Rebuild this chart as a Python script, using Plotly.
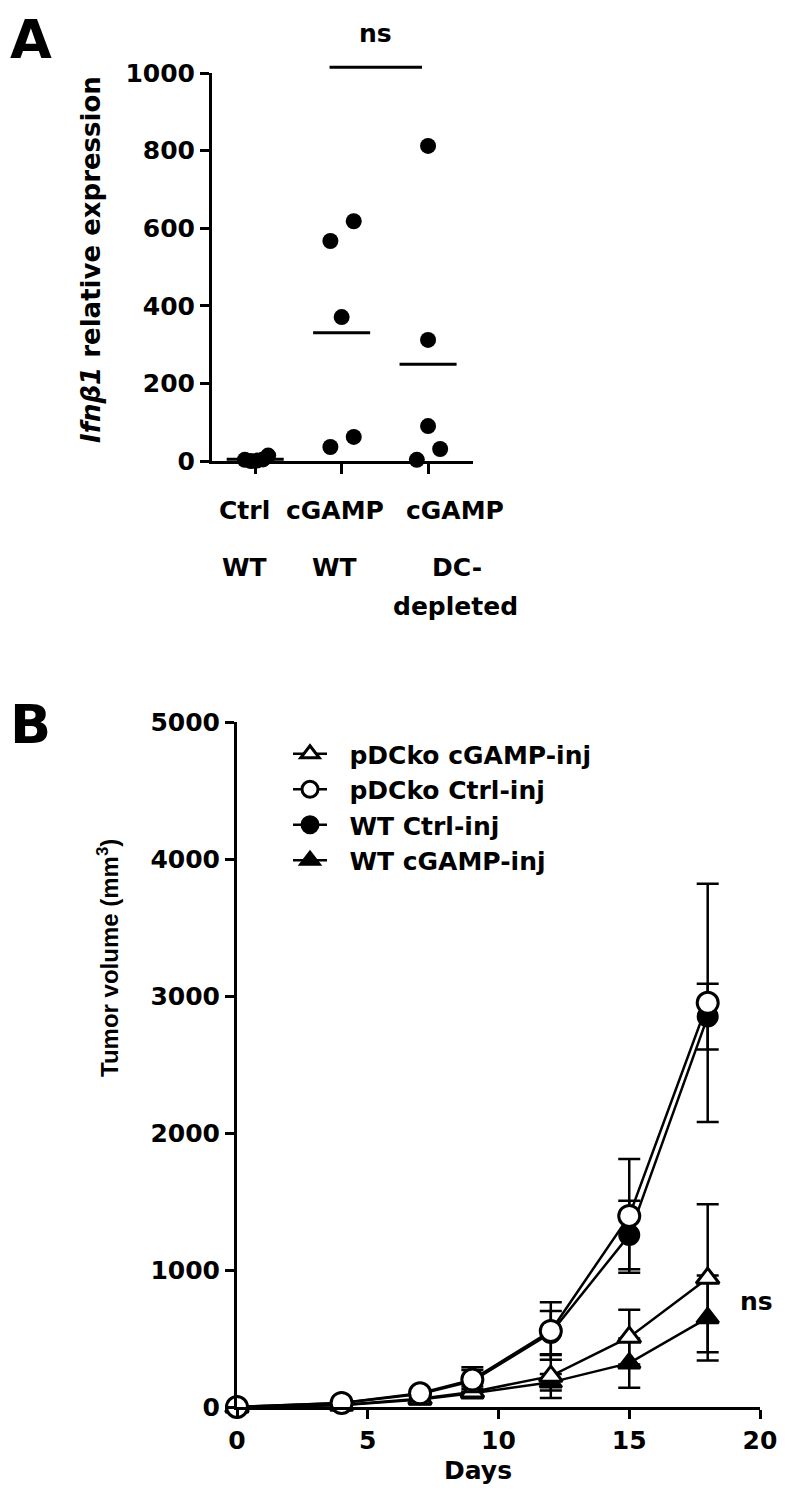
import plotly.graph_objects as go

# page body has an 8px margin: the figure fills the rest of the 785x1496 window
OFF = 8
W, H = 785 - OFF, 1496 - OFF
FONT = "DejaVu Sans"

# ---------------- Panel A data ----------------
group_pos = [0, 1, 2]
label_row1 = ["Ctrl", "cGAMP", "cGAMP"]
label_row2 = ["WT", "WT", "DC-"]
label_row3 = ["", "", "depleted"]
ctrl_wt = [3, 0, 1, 4, 14]
ctrl_wt_jitter = [-0.12, -0.05, 0.02, 0.09, 0.15]
cgamp_wt = [567, 618, 371, 36, 62]
cgamp_wt_jitter = [-0.13, 0.14, 0.0, -0.13, 0.14]
cgamp_dc = [812, 312, 90, 3, 31]
cgamp_dc_jitter = [0.0, 0.0, 0.0, -0.13, 0.14]
a_yticks = [0, 200, 400, 600, 800, 1000]
sig_bar_a = [0.86, 1.93]
sig_bar_a_y = 1015

# ---------------- Panel B data ----------------
days = [0, 4, 7, 9, 12, 15, 18]
pdcko_cgamp = [0, 15, 60, 110, 225, 510, 940]
pdcko_cgamp_err = [0, 5, 15, 40, 160, 200, 540]
pdcko_ctrl = [0, 30, 100, 200, 555, 1395, 2950]
pdcko_ctrl_err = [0, 10, 30, 90, 210, 415, 870]
wt_ctrl = [0, 30, 95, 190, 540, 1255, 2850]
wt_ctrl_err = [0, 10, 25, 80, 160, 250, 240]
wt_cgamp = [0, 12, 55, 100, 180, 320, 650]
wt_cgamp_err = [0, 5, 15, 30, 60, 180, 310]
b_yticks = [0, 1000, 2000, 3000, 4000, 5000]
b_xticks = [0, 5, 10, 15, 20]


def px(x):
    return (x - OFF) / W


def py(y):
    return 1 - (y - OFF) / H


fig = go.Figure()

# ---- Panel A scatter ----
groups = [(ctrl_wt, ctrl_wt_jitter), (cgamp_wt, cgamp_wt_jitter), (cgamp_dc, cgamp_dc_jitter)]
for g, (vals, jit) in zip(group_pos, groups):
    fig.add_trace(go.Scatter(
        x=[g + j for j in jit], y=vals, mode="markers",
        marker=dict(color="black", size=16, symbol="circle"),
        xaxis="x", yaxis="y", showlegend=False, cliponaxis=False))
    mean = sum(vals) / len(vals)
    fig.add_trace(go.Scatter(
        x=[g - 0.33, g + 0.33], y=[mean, mean], mode="lines",
        line=dict(color="black", width=3),
        xaxis="x", yaxis="y", showlegend=False, cliponaxis=False))

# significance bar on an invisible taller y-axis sharing the same scale
A_TOP, A_ZERO, A_AXTOP = 73, 461, 20
y3_max = 1000 * (A_ZERO - A_AXTOP) / (A_ZERO - A_TOP)
fig.add_trace(go.Scatter(
    x=sig_bar_a, y=[sig_bar_a_y, sig_bar_a_y], mode="lines",
    line=dict(color="black", width=3), xaxis="x", yaxis="y3",
    showlegend=False))

# ---- Panel B lines ----
NB = "\u00a0\u00a0"
series_b = [
    ("pDCko cGAMP-inj", pdcko_cgamp, pdcko_cgamp_err, "triangle-up", "white", 20),
    ("pDCko Ctrl-inj", pdcko_ctrl, pdcko_ctrl_err, "circle", "white", 21),
    ("WT Ctrl-inj", wt_ctrl, wt_ctrl_err, "circle", "black", 19),
    ("WT cGAMP-inj", wt_cgamp, wt_cgamp_err, "triangle-up", "black", 19),
]
draw_order = [3, 2, 0, 1]
for i in draw_order:
    name, vals, err, sym, fill, size = series_b[i]
    fig.add_trace(go.Scatter(
        x=days, y=vals, name=NB + name, mode="lines+markers",
        line=dict(color="black", width=2.5),
        marker=dict(symbol=sym, color=fill, size=size,
                    line=dict(color="black", width=3)),
        error_y=dict(type="data", array=err, visible=True,
                     color="black", thickness=2.5, width=11),
        xaxis="x2", yaxis="y2", cliponaxis=False,
        legendrank=i + 1))

axis_line = dict(
    showgrid=False, zeroline=False, showline=True, linecolor="black",
    linewidth=3, ticks="outside", tickcolor="black", tickwidth=3,
    automargin=False)
tickfont = dict(family=FONT, size=25, color="black", weight="bold")

fig.update_layout(
    template="none",
    width=W, height=H, margin=dict(l=0, r=0, t=0, b=0, pad=0, autoexpand=False),
    paper_bgcolor="white", plot_bgcolor="rgba(0,0,0,0)",
    xaxis=dict(domain=[px(212), px(473)], range=[-0.5, 2.52],
               tickvals=group_pos, showticklabels=False, ticklen=10,
               anchor="y", **axis_line),
    yaxis=dict(domain=[py(A_ZERO), py(A_TOP)], range=[0, 1000], tickvals=a_yticks,
               ticklen=9, anchor="x", tickfont=tickfont, **axis_line),
    yaxis3=dict(domain=[py(A_ZERO), py(A_AXTOP)], range=[0, y3_max],
                visible=False, anchor="x"),
    xaxis2=dict(domain=[px(237), px(760)], range=[0, 20], tickvals=b_xticks,
                ticklen=9, anchor="y2", tickfont=tickfont, **axis_line),
    yaxis2=dict(domain=[py(1407), py(722)], range=[0, 5000], tickvals=b_yticks,
                ticklen=9, anchor="x2", tickfont=tickfont, **axis_line),
    legend=dict(x=px(288), y=py(731), xanchor="left", yanchor="top",
                font=dict(family=FONT, size=25, color="black", weight="bold"),
                bgcolor="rgba(0,0,0,0)", itemwidth=34, tracegroupgap=0,
                borderwidth=0),
    showlegend=True,
)

ann = []
bold = dict(family=FONT, color="black", weight="bold")


def add_text(text, x, y, xref="paper", yref="paper", size=25, angle=0,
             xanchor="center", yanchor="middle", xshift=0, yshift=0, font=None):
    ann.append(dict(text=text, x=x, y=y, xref=xref, yref=yref, textangle=angle,
                    xanchor=xanchor, yanchor=yanchor, xshift=xshift, yshift=yshift,
                    showarrow=False, font=font or dict(size=size, **bold)))


add_text("A", px(8), py(6), xanchor="left", yanchor="top", size=54)
add_text("B", px(8), py(691), xanchor="left", yanchor="top", size=54)
add_text("ns", sum(sig_bar_a) / 2, sig_bar_a_y, xref="x", yref="y3",
         yanchor="bottom", yshift=17)
add_text("<i>Ifnβ1</i> relative expression", px(91), py(260), angle=-90, size=26)
shifts = [-11, -7, 27]
for g, t1, t2, t3, s in zip(group_pos, label_row1, label_row2, label_row3, shifts):
    for txt, ypix in ((t1, 510), (t2, 567), (t3, 606)):
        if txt:
            add_text(txt, g, py(ypix), xref="x", xshift=s + (2 if txt == "DC-" else 0))
add_text("Tumor volume (mm<sup>3</sup>)", px(108), py(958), angle=-90,
         font=dict(family="Liberation Sans", size=24, color="black", weight="bold"))
add_text("Days", px(478), py(1470))
add_text("ns", 18, pdcko_cgamp[-1] - 170, xref="x2", yref="y2",
         xanchor="left", xshift=30)
fig.update_layout(annotations=ann)

fig.write_html("out.html")
